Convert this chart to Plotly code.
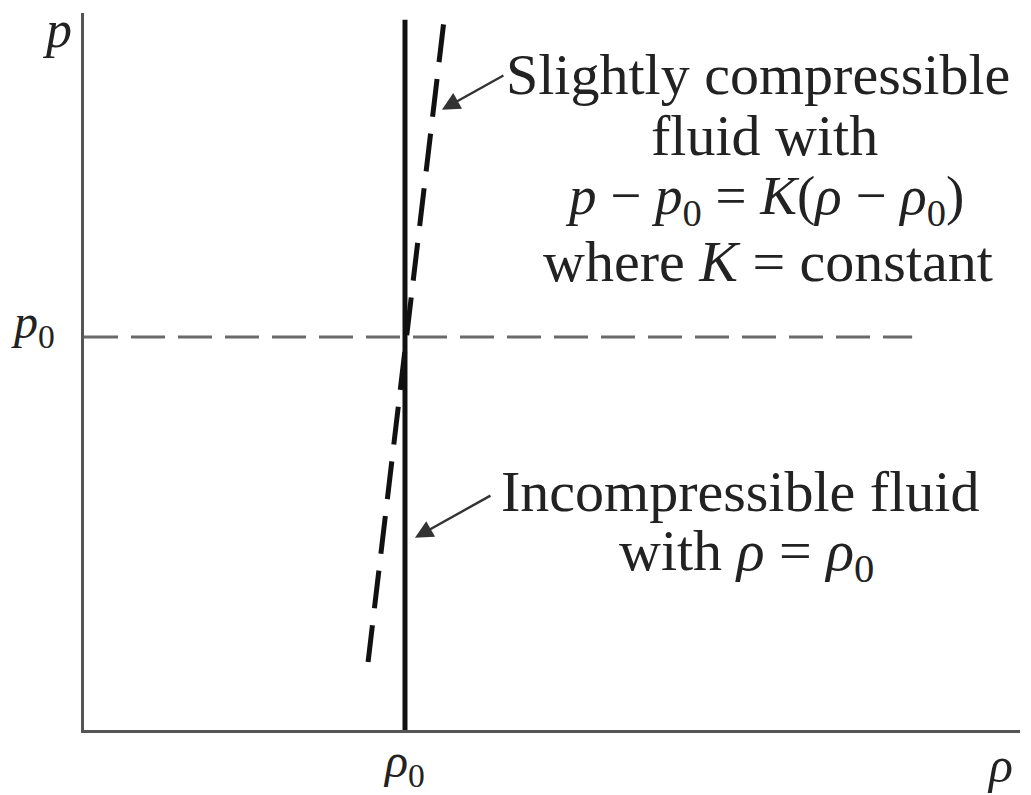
import plotly.graph_objects as go

# Reference state (arbitrary units: rho0 = 1, p0 = 1)
rho0 = 1.0
p0 = 1.0

# Incompressible fluid: rho stays at rho0 for all pressures
rho_incompressible = [1.0, 1.0]
p_incompressible = [0.0, 1.807]

# Slightly compressible fluid: p - p0 = K (rho - rho0), drawn top to bottom
rho_compressible = [1.12, 0.885]
p_compressible = [1.795, 0.173]

# Horizontal reference line at p = p0
rho_p0_line = [0.0, 2.58]
p_p0_line = [1.0, 1.0]

RHO_MAX = 2.916
P_MAX = 1.824

SERIF = "Liberation Serif, DejaVu Serif, serif"
TXT = 58

fig = go.Figure()

fig.add_trace(go.Scatter(
    x=rho_p0_line, y=p_p0_line, mode="lines",
    line=dict(color="#6a6a6a", width=3, dash="34px,13px"),
    hoverinfo="skip", showlegend=False))

fig.add_trace(go.Scatter(
    x=rho_incompressible, y=p_incompressible, mode="lines",
    line=dict(color="#111111", width=5),
    hoverinfo="skip", showlegend=False))

fig.add_trace(go.Scatter(
    x=rho_compressible, y=p_compressible, mode="lines",
    line=dict(color="#111111", width=5, dash="38px,17px"),
    hoverinfo="skip", showlegend=False))

annotations = []

# Axis end labels and the p0 label
annotations.append(dict(
    x=0, y=P_MAX, xref="x", yref="y", xanchor="center", yanchor="middle",
    xshift=-27, yshift=-16, showarrow=False,
    text="<i>p</i>", font=dict(family=SERIF, size=52, color="#222")))
annotations.append(dict(
    x=RHO_MAX, y=0, xref="x", yref="y", xanchor="center", yanchor="middle",
    xshift=-20, yshift=-35, showarrow=False,
    text="<i>ρ</i>", font=dict(family=SERIF, size=50, color="#222")))
annotations.append(dict(
    x=0, y=p0, xref="x", yref="y", xanchor="right", yanchor="middle",
    xshift=-27, yshift=12, showarrow=False,
    text="<i>p</i><sub>0</sub>", font=dict(family=SERIF, size=48, color="#222")))

W, H = 1031, 795
L, R, T, B = 84, 11, 13, 65
pw, ph = W - L - R, H - T - B


def px(xp, yp):
    return (xp - L) / pw, (H - B - yp) / ph


# Text blocks, one line each
def line(text, xc, yc, size=TXT):
    annotations.append(dict(
        x=xc, y=yc, xref="paper", yref="paper",
        xanchor="center", yanchor="middle", showarrow=False,
        text=text, font=dict(family=SERIF, size=size, color="#222")))


line("Slightly compressible", *px(758, 74))
line("fluid with", *px(764, 135))
line("<i>p</i> − <i>p</i><sub>0</sub> = <i>K</i>(<i>ρ</i> − <i>ρ</i><sub>0</sub>)",
     *px(764, 199), size=55)
line("where <i>K</i> = constant", *px(768, 261))
line("Incompressible fluid", *px(740, 491))
line("with <i>ρ</i> = <i>ρ</i><sub>0</sub>", *px(746, 554))

# Pointer arrows
annotations.append(dict(
    x=1.115, y=1.578, xref="x", yref="y", ax=63, ay=-35,
    showarrow=True, arrowhead=2, arrowsize=1.5, arrowwidth=2.4,
    arrowcolor="#333", text=""))
annotations.append(dict(
    x=1.031, y=0.489, xref="x", yref="y", ax=77, ay=-43,
    showarrow=True, arrowhead=2, arrowsize=1.5, arrowwidth=2.4,
    arrowcolor="#333", text=""))

fig.update_layout(
    width=W, height=H,
    margin=dict(l=L, r=R, t=T, b=B, autoexpand=False),
    paper_bgcolor="white", plot_bgcolor="white",
    annotations=annotations,
    xaxis=dict(
        range=[0, RHO_MAX], showgrid=False, zeroline=False, automargin=False,
        showline=True, linecolor="#555", linewidth=3,
        tickvals=[rho0], ticktext=["<i>ρ</i><sub>0</sub>"], ticks="", ticklen=0,
        tickfont=dict(family=SERIF, size=48, color="#222"),
        ticklabelstandoff=-14, fixedrange=True),
    yaxis=dict(
        range=[0, P_MAX], showgrid=False, zeroline=False, automargin=False,
        showline=True, linecolor="#555", linewidth=3,
        showticklabels=False, ticks="", fixedrange=True),
)

fig.write_html("out.html")
